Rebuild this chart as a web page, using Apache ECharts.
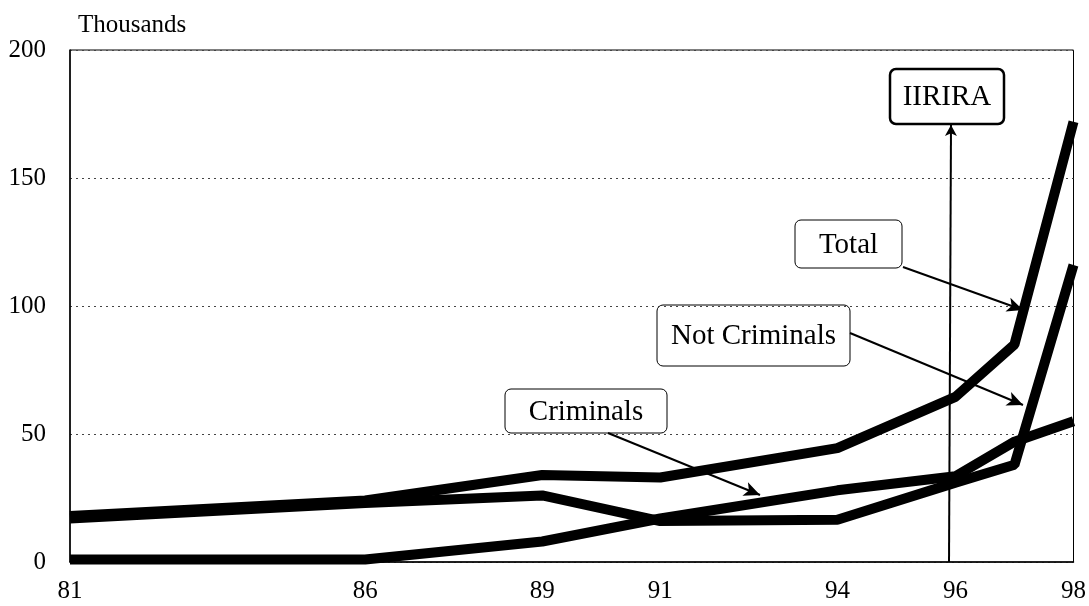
<!DOCTYPE html>
<html>
<head>
<meta charset="utf-8">
<script src="https://cdn.jsdelivr.net/npm/echarts@6/dist/echarts.min.js"></script>
<style>
  html, body { margin: 0; padding: 0; background: #fff; }
  #chart { width: 1089px; height: 606px; }
</style>
</head>
<body>
<div id="chart"></div>
<script>
// values (thousands)
const years = [81, 86, 89, 91, 94, 96, 97, 98];
const total = [18, 24, 34, 33, 44.5, 64.5, 85, 172];
const notCriminals = [17, 23, 26, 16, 16.5, 31, 38, 116];
const criminals = [1, 1, 8, 17, 28, 33.5, 47, 55];
const xTickLabels = [81, 86, 89, 91, 94, 96, 98];

const serif = '"Liberation Serif", "Times New Roman", serif';

function pairs(vals) {
    return years.map((y, i) => [y, vals[i]]);
}

const chart = echarts.init(document.getElementById('chart'));

// little boxed notes with arrows
function note(text, x, y, w, h, lw) {
    return {
        type: 'group',
        z: 100,
        children: [
            {
                type: 'rect',
                shape: { x: x, y: y, width: w, height: h, r: 6 },
                style: { fill: '#fff', stroke: '#000', lineWidth: lw || 1 }
            },
            {
                type: 'text',
                x: x + w / 2,
                y: y + h / 2 + 1,
                style: {
                    text: text,
                    font: '29px ' + serif,
                    fill: '#000',
                    align: 'center',
                    verticalAlign: 'middle'
                }
            }
        ]
    };
}

const lineBase = {
    type: 'line',
    symbol: 'none',
    lineStyle: { color: '#000', width: 10, join: 'bevel' },
    itemStyle: { color: '#000' },
    z: 5
};

chart.setOption({
    animation: false,
    backgroundColor: '#fff',
    grid: {
        left: 70, right: 13, top: 50, bottom: 44,
        show: true, borderColor: '#000', borderWidth: 1
    },
    xAxis: {
        type: 'value',
        min: 81, max: 98,
        splitLine: { show: false },
        axisTick: { show: false },
        axisLine: { lineStyle: { color: '#000', width: 1.5 } },
        axisLabel: {
            customValues: xTickLabels,
            color: '#000', fontFamily: serif, fontSize: 25, margin: 17
        }
    },
    yAxis: {
        type: 'value',
        min: 0, max: 200, interval: 50,
        axisTick: { show: false },
        axisLine: { show: true, lineStyle: { color: '#000', width: 1.5 } },
        axisLabel: { color: '#000', fontFamily: serif, fontSize: 25, margin: 24 },
        splitLine: { lineStyle: { color: '#444', type: [2, 4], width: 1 } }
    },
    series: [
        Object.assign({}, lineBase, { name: 'Total', data: pairs(total),
            markLine: {
                silent: true,
                symbol: ['none', 'arrow'],
                symbolSize: [11, 16],
                label: { show: false },
                lineStyle: { color: '#000', width: 2, type: 'solid' },
                data: [
                    [{ x: 903, y: 267 }, { x: 1023, y: 310 }],
                    [{ x: 850, y: 333 }, { x: 1023, y: 405 }],
                    [{ x: 608, y: 433 }, { x: 760, y: 495 }],
                    [{ x: 949, y: 562, symbolSize: [9, 11] }, { x: 951, y: 125, symbolSize: [9, 11] }]
                ]
            }
        }),
        Object.assign({}, lineBase, { name: 'Not Criminals', data: pairs(notCriminals) }),
        Object.assign({}, lineBase, { name: 'Criminals', data: pairs(criminals) })
    ],
    graphic: [
        {
            type: 'text', left: 78, top: 13,
            style: { text: 'Thousands', font: '25px ' + serif, fill: '#000' }
        },
        note('IIRIRA', 890, 69, 114, 55, 2.5),
        note('Total', 795, 220, 107, 48),
        note('Not Criminals', 657, 305, 193, 61),
        note('Criminals', 505, 389, 162, 44)
    ]
});
</script>
</body>
</html>
